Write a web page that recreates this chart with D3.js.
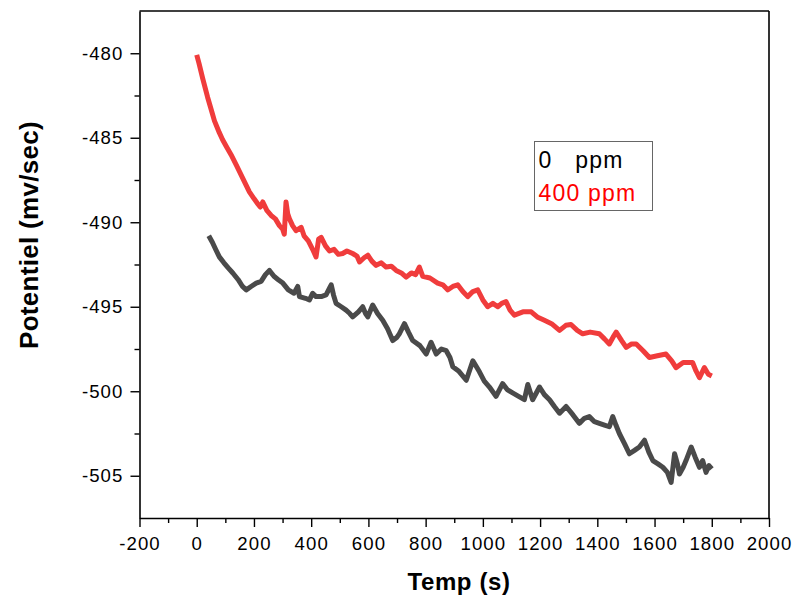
<!DOCTYPE html>
<html>
<head>
<meta charset="utf-8">
<script src="https://cdn.jsdelivr.net/npm/d3@7"></script>
<style>
  html, body { margin: 0; padding: 0; background: #fff; }
  svg { display: block; font-family: "Liberation Sans", Arial, sans-serif; }
</style>
</head>
<body>
<svg id="chart" width="796" height="596"></svg>
<script>
// ---- Data ----
const seriesNames = ["0   ppm", "400 ppm"];
const seriesColors = ["#4a4a4a", "#f03c3c"];
const legendColors = ["#000000", "#ff0000"];

// 400 ppm series: [time (s), potential]
const t400 = [0,8,21,38,50,62,79,90,103,120,138,161,184,200,213,222,231,245,260,275,289,300,306,312,318,324,335,347,365,375,390,405,417,426,435,450,464,480,495,510,525,545,560,569,585,598,612,627,645,662,680,697,715,732,750,765,778,790,815,842,860,877,895,912,930,947,965,982,1000,1017,1035,1052,1066,1081,1095,1110,1140,1169,1190,1215,1240,1268,1290,1308,1330,1349,1375,1407,1425,1442,1455,1466,1485,1501,1520,1536,1560,1582,1610,1640,1660,1675,1700,1733,1745,1757,1774,1788,1800];
const v400 = [-480.1,-480.6,-481.5,-482.6,-483.3,-484.0,-484.7,-485.1,-485.5,-486.0,-486.6,-487.4,-488.2,-488.6,-488.9,-489.1,-488.8,-489.3,-489.6,-489.8,-490.2,-490.4,-490.7,-488.8,-489.5,-489.8,-490.2,-490.5,-490.3,-490.8,-491.1,-491.6,-492.05,-491.0,-490.9,-491.4,-491.7,-491.6,-491.9,-491.85,-491.7,-491.85,-492.0,-492.35,-492.1,-491.95,-492.3,-492.55,-492.4,-492.65,-492.6,-492.85,-493.0,-493.25,-493.0,-493.1,-492.65,-493.2,-493.3,-493.6,-493.7,-494.0,-493.8,-493.7,-494.1,-494.4,-494.1,-494.0,-494.6,-495.0,-494.8,-495.0,-494.8,-494.7,-495.2,-495.5,-495.3,-495.3,-495.6,-495.8,-496.0,-496.4,-496.1,-496.05,-496.4,-496.6,-496.5,-496.6,-496.9,-497.2,-496.8,-496.5,-497.0,-497.4,-497.2,-497.2,-497.6,-498.0,-497.9,-497.8,-498.2,-498.6,-498.3,-498.3,-498.8,-499.2,-498.6,-499.0,-499.1];

// 0 ppm series
const t0 = [42,55,66,79,95,110,126,145,160,173,190,208,225,240,254,270,285,301,320,340,353,359,380,394,405,417,435,452,464,470,478,487,505,522,535,545,565,580,590,598,615,632,650,667,685,700,708,726,740,755,780,802,819,837,855,872,885,895,915,942,955,965,988,1005,1023,1046,1069,1085,1104,1125,1145,1157,1174,1198,1215,1233,1250,1268,1291,1315,1337,1355,1372,1390,1407,1425,1442,1454,1465,1477,1495,1512,1530,1547,1565,1580,1594,1612,1629,1645,1658,1670,1680,1687,1700,1710,1728,1742,1757,1768,1780,1790,1800];
const v0 = [-490.8,-491.2,-491.6,-492.05,-492.4,-492.7,-493.0,-493.4,-493.8,-494.0,-493.8,-493.6,-493.5,-493.1,-492.85,-493.2,-493.4,-493.6,-494.0,-494.2,-493.8,-494.4,-494.5,-494.6,-494.2,-494.4,-494.4,-494.3,-493.9,-493.7,-494.3,-494.8,-495.0,-495.2,-495.4,-495.6,-495.3,-495.0,-495.4,-495.6,-494.9,-495.4,-495.8,-496.3,-497.0,-496.8,-496.6,-496.0,-496.5,-497.0,-497.3,-497.8,-497.1,-497.8,-497.5,-497.6,-498.0,-498.55,-498.8,-499.35,-498.7,-498.2,-498.85,-499.4,-499.75,-500.3,-499.55,-499.9,-500.1,-500.3,-500.5,-499.6,-500.5,-499.75,-500.2,-500.5,-500.9,-501.3,-500.9,-501.4,-501.9,-501.6,-501.5,-501.8,-501.9,-502.0,-502.1,-501.5,-502.0,-502.5,-503.1,-503.7,-503.5,-503.3,-502.9,-503.6,-504.1,-504.3,-504.5,-504.8,-505.4,-503.7,-504.3,-504.9,-504.5,-504.1,-503.3,-503.9,-504.5,-504.1,-504.8,-504.4,-504.6];

const xTicks = [-200,0,200,400,600,800,1000,1200,1400,1600,1800,2000];
const xMinorTicks = [-100,100,300,500,700,900,1100,1300,1500,1700,1900];
const yTicks = [-505,-500,-495,-490,-485,-480];
const yMinorTicks = [-502.5,-497.5,-492.5,-487.5,-482.5];
const xDomain = [-200, 2000];
const yDomain = [-507.5, -477.5];
const xTitle = "Temp (s)";
const yTitle = "Potentiel (mv/sec)";

// ---- Layout ----
const plot = { left: 139.5, right: 769, top: 11, bottom: 518 };
const svg = d3.select("#chart");

const x = d3.scaleLinear().domain(xDomain).range([plot.left, plot.right]);
const y = d3.scaleLinear().domain(yDomain).range([plot.bottom, plot.top]);

// curves
const line = d3.line().x(d => x(d[0])).y(d => y(d[1])).curve(d3.curveLinear);
const data0 = t0.map((t, i) => [t, v0[i]]);
const data400 = t400.map((t, i) => [t, v400[i]]);

svg.append("path").datum(data0)
  .attr("d", line).attr("fill", "none")
  .attr("stroke", seriesColors[0]).attr("stroke-width", 5)
  .attr("stroke-linejoin", "round").attr("stroke-linecap", "butt");
svg.append("path").datum(data400)
  .attr("d", line).attr("fill", "none")
  .attr("stroke", seriesColors[1]).attr("stroke-width", 5)
  .attr("stroke-linejoin", "round").attr("stroke-linecap", "butt");

// frame top/right
svg.append("line").attr("x1", plot.left).attr("x2", plot.right).attr("y1", plot.top).attr("y2", plot.top)
  .attr("stroke", "#000").attr("stroke-width", 1.6);
svg.append("line").attr("x1", plot.right).attr("x2", plot.right).attr("y1", plot.top).attr("y2", plot.bottom)
  .attr("stroke", "#000").attr("stroke-width", 1.6);

// axes
function styleAxis(g) {
  g.select(".domain").attr("stroke", "#000").attr("stroke-width", 1.6);
  g.selectAll(".tick line").attr("stroke", "#000").attr("stroke-width", 1.4);
  g.selectAll(".tick text").attr("fill", "#000")
    .style("font-size", "18.6px").style("letter-spacing", "1.1px")
    .style("font-family", "'Liberation Sans', Arial, sans-serif");
}

const xAxis = svg.append("g").attr("transform", `translate(0,${plot.bottom})`)
  .call(d3.axisBottom(x).tickValues(xTicks).tickSize(9).tickPadding(10).tickFormat(d => String(d)).tickSizeOuter(0));
styleAxis(xAxis);
const xMinor = svg.append("g").attr("transform", `translate(0,${plot.bottom})`)
  .call(d3.axisBottom(x).tickValues(xMinorTicks).tickSize(5).tickFormat("").tickSizeOuter(0));
styleAxis(xMinor);
xMinor.select(".domain").remove();

const yAxis = svg.append("g").attr("transform", `translate(${plot.left},0)`)
  .call(d3.axisLeft(y).tickValues(yTicks).tickSize(9).tickPadding(7).tickFormat(d => String(d)).tickSizeOuter(0));
styleAxis(yAxis);
const yMinor = svg.append("g").attr("transform", `translate(${plot.left},0)`)
  .call(d3.axisLeft(y).tickValues(yMinorTicks).tickSize(5).tickFormat("").tickSizeOuter(0));
styleAxis(yMinor);
yMinor.select(".domain").remove();

// titles
svg.append("text").attr("x", 459).attr("y", 590)
  .attr("text-anchor", "middle").attr("font-weight", "bold")
  .style("font-size", "24px").style("letter-spacing", "0.6px")
  .text(xTitle);
svg.append("text")
  .attr("transform", `translate(38,235) rotate(-90)`)
  .attr("text-anchor", "middle").attr("font-weight", "bold")
  .style("font-size", "26px").style("letter-spacing", "0.3px")
  .text(yTitle);

// legend
const legend = svg.append("g");
legend.append("rect").attr("x", 534.5).attr("y", 141.5).attr("width", 118).attr("height", 69)
  .attr("fill", "#fff").attr("stroke", "#666").attr("stroke-width", 1);
legend.selectAll("text.leg").data(seriesNames).join("text")
  .attr("class", "leg")
  .attr("x", 538.5)
  .attr("y", (d, i) => 168.3 + i * 32.7)
  .attr("fill", (d, i) => legendColors[i])
  .style("font-size", "23px").style("letter-spacing", "1.2px")
  .style("white-space", "pre")
  .text(d => d);
</script>
</body>
</html>
